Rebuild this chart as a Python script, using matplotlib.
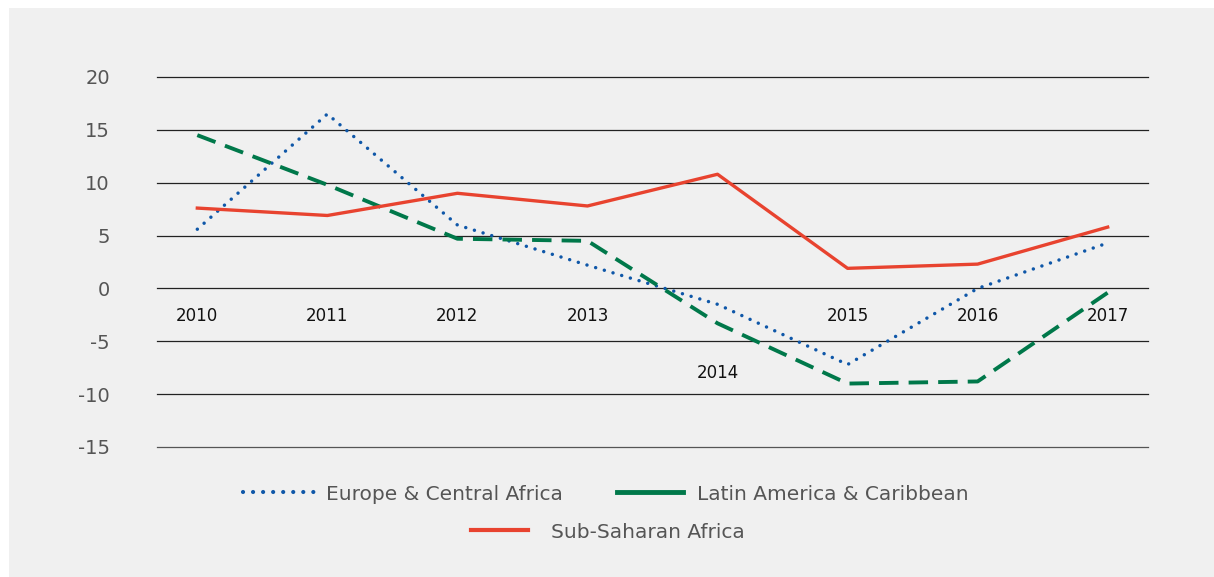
import matplotlib
matplotlib.use("Agg")
import matplotlib.pyplot as plt
from matplotlib.patches import Rectangle
from matplotlib.lines import Line2D

plt.rcParams['font.family'] = ['DejaVu Sans']

years = ["2010", "2011", "2012", "2013", "2014", "2015", "2016", "2017"]
europe = [5.6, 16.5, 6.0, 2.2, -1.5, -7.2, 0.0, 4.3]
latam = [14.5, 9.8, 4.7, 4.5, -3.3, -9.0, -8.8, -0.4]
ssa = [7.6, 6.9, 9.0, 7.8, 10.8, 1.9, 2.3, 5.8]
label_y = [-2.6, -2.6, -2.6, -2.6, -8.0, -2.6, -2.6, -2.6]
yticks = [20, 15, 10, 5, 0, -5, -10, -15]

names = ["Europe & Central Africa", "Latin America & Caribbean", "Sub-Saharan Africa"]
c_blue = "#0f57a8"
c_green = "#00784a"
c_red = "#e8432f"
c_text = "#555555"

W, H = 1214, 577
fig = plt.figure(figsize=(W / 100, H / 100), dpi=100, facecolor="white")
fig.patches.append(Rectangle((9 / W, 0), 1 - 9 / W, 1 - 8 / H,
                             transform=fig.transFigure, facecolor="#f0f0f0",
                             edgecolor="none", zorder=-10))

ax = fig.add_axes([157 / W, 1 - 447 / H, (1148 - 157) / W, (447 - 77) / H])
ax.set_facecolor("none")
x = list(range(len(years)))

for yv in yticks:
    ax.axhline(yv, color="#222222" if yv != -15 else "#555555", lw=0.9,
               zorder=1, clip_on=False)

ax.plot(x, europe, color=c_blue, lw=2.5, linestyle=(0, (0.01, 2.6)),
        dash_capstyle="round", zorder=3)
ax.plot(x, latam, color=c_green, lw=2.8, linestyle=(0, (5.0, 2.6)), zorder=3)
ax.plot(x, ssa, color=c_red, lw=2.4, zorder=4)

for xi, lab, ly in zip(x, years, label_y):
    ax.text(xi, ly, lab, ha="center", va="center", fontsize=12,
            color="#111111", zorder=5)

ax.set_xlim(-0.31, 7.31)
ax.set_ylim(-15, 20)
ax.set_yticks(yticks)
ax.set_yticklabels([str(v) for v in yticks], fontsize=14, color=c_text)
ax.tick_params(axis="y", length=0, pad=34)
ax.set_xticks([])
for s in ax.spines.values():
    s.set_visible(False)

fs = 14.5
h1 = Line2D([], [], color=c_blue, lw=3, linestyle=(0, (0.01, 2.4)), dash_capstyle="round")
h2 = Line2D([], [], color=c_green, lw=3.5)
h3 = Line2D([], [], color=c_red, lw=3.0)

specs = [(h1, names[0], 243, 494, 3.72, 0.4),
         (h2, names[1], 617, 494, 3.28, 0.7),
         (h3, names[2], 471, 532, 2.83, 1.14)]
for h, nm, px, py, hl, tp in specs:
    fig.legend([h], [nm], loc="center left", bbox_to_anchor=(px / W, 1 - py / H),
               frameon=False, fontsize=fs, handlelength=hl, handletextpad=tp,
               borderpad=0, borderaxespad=0, labelcolor=c_text)

fig.savefig("out.png", dpi=100, facecolor="white")
